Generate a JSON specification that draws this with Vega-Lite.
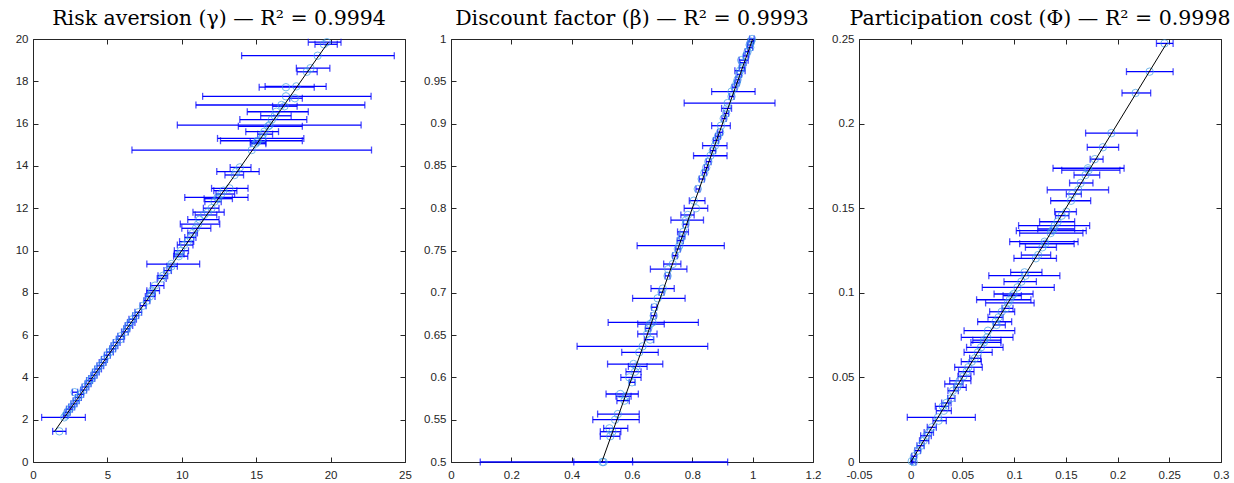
{
  "$schema": "https://vega.github.io/schema/vega-lite/v6.json",
  "background": "white",
  "padding": {"left": 14, "top": 8, "right": 5, "bottom": 5},
  "config": {
    "view": {"stroke": "#262626", "strokeWidth": 1},
    "font": "Liberation Sans",
    "axis": {"domain": false, "grid": false, "tickColor": "#262626", "tickSize": -5, "tickWidth": 1, "labelColor": "#262626", "labelFont": "Liberation Sans", "labelFontSize": 11.5, "labelPadding": 10, "title": null, "labelFlush": false, "labelOverlap": false},
    "axisX": {"labelPadding": 12},
    "title": {"font": "DejaVu Serif", "fontSize": 20.5, "fontWeight": "normal", "color": "#000000", "offset": 4, "anchor": "middle"}
  },
  "datasets": {
    "gamma": [
      {"t": 19.85, "e": 19.75, "lo": 18.5, "hi": 20.7},
      {"t": 19.75, "e": 19.55, "lo": 18.95, "hi": 20.45},
      {"t": 19.21, "e": 19.13, "lo": 14.02, "hi": 24.28},
      {"t": 18.62, "e": 18.65, "lo": 17.7, "hi": 19.95},
      {"t": 18.45, "e": 18.4, "lo": 17.75, "hi": 19.1},
      {"t": 17.76, "e": 17.7, "lo": 15.6, "hi": 19.7},
      {"t": 17.72, "e": 17.0, "lo": 15.2, "hi": 18.9},
      {"t": 17.29, "e": 17.0, "lo": 11.4, "hi": 22.72},
      {"t": 17.2, "e": 17.6, "lo": 17.25, "hi": 18.1},
      {"t": 16.88, "e": 16.7, "lo": 10.95, "hi": 22.3},
      {"t": 16.82, "e": 16.9, "lo": 16.1, "hi": 17.75},
      {"t": 16.56, "e": 16.35, "lo": 14.4, "hi": 18.5},
      {"t": 16.37, "e": 16.25, "lo": 15.3, "hi": 17.35},
      {"t": 16.19, "e": 16.05, "lo": 13.9, "hi": 18.4},
      {"t": 15.93, "e": 15.9, "lo": 9.7, "hi": 22.05},
      {"t": 15.87, "e": 15.8, "lo": 13.8, "hi": 18.1},
      {"t": 15.62, "e": 15.55, "lo": 14.3, "hi": 16.5},
      {"t": 15.5, "e": 15.45, "lo": 15.1, "hi": 16.1},
      {"t": 15.3, "e": 15.4, "lo": 12.4, "hi": 18.2},
      {"t": 15.19, "e": 15.1, "lo": 12.6, "hi": 18.1},
      {"t": 15.12, "e": 15.05, "lo": 14.6, "hi": 15.65},
      {"t": 15.05, "e": 14.95, "lo": 14.65, "hi": 15.65},
      {"t": 14.75, "e": 14.7, "lo": 6.65, "hi": 22.75},
      {"t": 13.93, "e": 13.9, "lo": 13.25, "hi": 14.65},
      {"t": 13.73, "e": 13.65, "lo": 12.35, "hi": 15.2},
      {"t": 13.57, "e": 13.55, "lo": 12.9, "hi": 14.15},
      {"t": 12.94, "e": 13.2, "lo": 12.0, "hi": 14.45},
      {"t": 12.83, "e": 12.8, "lo": 12.15, "hi": 13.7},
      {"t": 12.67, "e": 12.65, "lo": 12.3, "hi": 13.55},
      {"t": 12.51, "e": 12.4, "lo": 10.2, "hi": 14.45},
      {"t": 12.45, "e": 12.45, "lo": 11.5, "hi": 13.4},
      {"t": 12.31, "e": 12.2, "lo": 11.55, "hi": 12.65},
      {"t": 12.0, "e": 12.0, "lo": 11.45, "hi": 12.5},
      {"t": 11.81, "e": 11.75, "lo": 10.75, "hi": 12.85},
      {"t": 11.68, "e": 11.5, "lo": 10.9, "hi": 12.35},
      {"t": 11.46, "e": 11.2, "lo": 10.4, "hi": 12.5},
      {"t": 11.25, "e": 11.1, "lo": 9.9, "hi": 12.55},
      {"t": 11.05, "e": 10.95, "lo": 10.0, "hi": 11.95},
      {"t": 10.83, "e": 10.75, "lo": 10.4, "hi": 11.05},
      {"t": 10.62, "e": 10.6, "lo": 10.2, "hi": 10.95},
      {"t": 10.42, "e": 10.4, "lo": 9.85, "hi": 10.8},
      {"t": 10.26, "e": 10.15, "lo": 9.7, "hi": 10.75},
      {"t": 9.99, "e": 9.95, "lo": 9.5, "hi": 10.45},
      {"t": 9.83, "e": 9.83, "lo": 9.5, "hi": 10.15},
      {"t": 9.73, "e": 9.8, "lo": 9.45, "hi": 10.4},
      {"t": 9.36, "e": 9.3, "lo": 7.65, "hi": 11.2},
      {"t": 9.25, "e": 9.3, "lo": 9.0, "hi": 9.7},
      {"t": 9.05, "e": 9.05, "lo": 8.8, "hi": 9.3},
      {"t": 8.81, "e": 8.75, "lo": 8.4, "hi": 9.05},
      {"t": 8.68, "e": 8.65, "lo": 8.35, "hi": 8.95},
      {"t": 8.34, "e": 8.2, "lo": 7.9, "hi": 8.8},
      {"t": 8.1, "e": 8.0, "lo": 7.65, "hi": 8.5},
      {"t": 7.99, "e": 7.95, "lo": 7.65, "hi": 8.2},
      {"t": 7.83, "e": 7.85, "lo": 7.55, "hi": 8.2},
      {"t": 7.63, "e": 7.66, "lo": 7.45, "hi": 7.85},
      {"t": 7.39, "e": 7.4, "lo": 7.2, "hi": 7.6},
      {"t": 7.08, "e": 7.08, "lo": 6.85, "hi": 7.3},
      {"t": 6.92, "e": 6.9, "lo": 6.7, "hi": 7.1},
      {"t": 6.75, "e": 6.7, "lo": 6.45, "hi": 6.95},
      {"t": 6.6, "e": 6.55, "lo": 6.35, "hi": 6.85},
      {"t": 6.45, "e": 6.4, "lo": 6.2, "hi": 6.7},
      {"t": 6.3, "e": 6.3, "lo": 6.1, "hi": 6.5},
      {"t": 6.15, "e": 6.2, "lo": 5.95, "hi": 6.4},
      {"t": 5.95, "e": 5.9, "lo": 5.7, "hi": 6.15},
      {"t": 5.8, "e": 5.85, "lo": 5.6, "hi": 6.1},
      {"t": 5.65, "e": 5.6, "lo": 5.4, "hi": 5.85},
      {"t": 5.5, "e": 5.45, "lo": 5.25, "hi": 5.7},
      {"t": 5.35, "e": 5.35, "lo": 5.15, "hi": 5.55},
      {"t": 5.2, "e": 5.15, "lo": 4.95, "hi": 5.4},
      {"t": 5.05, "e": 5.0, "lo": 4.8, "hi": 5.2},
      {"t": 4.85, "e": 4.8, "lo": 4.6, "hi": 5.0},
      {"t": 4.7, "e": 4.7, "lo": 4.45, "hi": 4.9},
      {"t": 4.55, "e": 4.5, "lo": 4.3, "hi": 4.75},
      {"t": 4.4, "e": 4.35, "lo": 4.15, "hi": 4.6},
      {"t": 4.25, "e": 4.2, "lo": 4.0, "hi": 4.45},
      {"t": 4.1, "e": 4.1, "lo": 3.9, "hi": 4.3},
      {"t": 3.95, "e": 3.95, "lo": 3.75, "hi": 4.15},
      {"t": 3.85, "e": 3.8, "lo": 3.6, "hi": 4.0},
      {"t": 3.7, "e": 3.7, "lo": 3.5, "hi": 3.9},
      {"t": 3.55, "e": 3.5, "lo": 3.3, "hi": 3.75},
      {"t": 3.4, "e": 3.4, "lo": 3.2, "hi": 3.6},
      {"t": 3.3, "e": 2.8, "lo": 2.65, "hi": 3.0},
      {"t": 3.2, "e": 3.2, "lo": 3.0, "hi": 3.4},
      {"t": 3.05, "e": 3.05, "lo": 2.85, "hi": 3.25},
      {"t": 2.9, "e": 2.9, "lo": 2.7, "hi": 3.1},
      {"t": 2.75, "e": 2.75, "lo": 2.55, "hi": 2.95},
      {"t": 2.6, "e": 2.6, "lo": 2.4, "hi": 2.8},
      {"t": 2.5, "e": 2.45, "lo": 2.25, "hi": 2.65},
      {"t": 2.35, "e": 2.3, "lo": 2.15, "hi": 2.5},
      {"t": 2.2, "e": 2.2, "lo": 2.05, "hi": 2.35},
      {"t": 2.11, "e": 2.1, "lo": 0.58, "hi": 3.52},
      {"t": 1.45, "e": 1.77, "lo": 1.32, "hi": 2.22}
    ],
    "gammaLine": [{"v": 1.45}, {"v": 19.85}],
    "beta": [
      {"t": 1.0, "e": 0.998, "lo": 0.99, "hi": 1.005},
      {"t": 0.997, "e": 0.995, "lo": 0.985, "hi": 1.003},
      {"t": 0.993, "e": 0.99, "lo": 0.982, "hi": 0.998},
      {"t": 0.99, "e": 0.992, "lo": 0.983, "hi": 1.0},
      {"t": 0.985, "e": 0.983, "lo": 0.975, "hi": 0.99},
      {"t": 0.98, "e": 0.978, "lo": 0.97, "hi": 0.986},
      {"t": 0.975, "e": 0.962, "lo": 0.955, "hi": 0.985},
      {"t": 0.972, "e": 0.968, "lo": 0.958, "hi": 0.978},
      {"t": 0.966, "e": 0.965, "lo": 0.956, "hi": 0.973},
      {"t": 0.9625, "e": 0.958, "lo": 0.941, "hi": 0.975},
      {"t": 0.958, "e": 0.955, "lo": 0.948, "hi": 0.963},
      {"t": 0.952, "e": 0.95, "lo": 0.944, "hi": 0.958},
      {"t": 0.948, "e": 0.947, "lo": 0.94, "hi": 0.955},
      {"t": 0.943, "e": 0.94, "lo": 0.932, "hi": 0.948},
      {"t": 0.9378, "e": 0.93, "lo": 0.864, "hi": 1.008},
      {"t": 0.932, "e": 0.93, "lo": 0.923, "hi": 0.938},
      {"t": 0.9243, "e": 0.917, "lo": 0.773, "hi": 1.074},
      {"t": 0.918, "e": 0.915, "lo": 0.897, "hi": 0.93},
      {"t": 0.912, "e": 0.912, "lo": 0.905, "hi": 0.92},
      {"t": 0.906, "e": 0.904, "lo": 0.898, "hi": 0.912},
      {"t": 0.8975, "e": 0.895, "lo": 0.864, "hi": 0.926},
      {"t": 0.8897, "e": 0.892, "lo": 0.884, "hi": 0.9},
      {"t": 0.885, "e": 0.885, "lo": 0.877, "hi": 0.893},
      {"t": 0.88, "e": 0.878, "lo": 0.87, "hi": 0.887},
      {"t": 0.8739, "e": 0.875, "lo": 0.834, "hi": 0.915},
      {"t": 0.868, "e": 0.868, "lo": 0.86, "hi": 0.877},
      {"t": 0.862, "e": 0.86, "lo": 0.804, "hi": 0.915},
      {"t": 0.855, "e": 0.853, "lo": 0.846, "hi": 0.862},
      {"t": 0.848, "e": 0.846, "lo": 0.84, "hi": 0.853},
      {"t": 0.842, "e": 0.84, "lo": 0.834, "hi": 0.847},
      {"t": 0.8345, "e": 0.831, "lo": 0.823, "hi": 0.84},
      {"t": 0.8227, "e": 0.818, "lo": 0.812, "hi": 0.825},
      {"t": 0.8089, "e": 0.805, "lo": 0.79, "hi": 0.842},
      {"t": 0.7999, "e": 0.812, "lo": 0.773, "hi": 0.851},
      {"t": 0.792, "e": 0.785, "lo": 0.762, "hi": 0.806},
      {"t": 0.786, "e": 0.779, "lo": 0.729, "hi": 0.837},
      {"t": 0.781, "e": 0.778, "lo": 0.77, "hi": 0.786},
      {"t": 0.772, "e": 0.77, "lo": 0.751, "hi": 0.787},
      {"t": 0.7668, "e": 0.765, "lo": 0.756, "hi": 0.775},
      {"t": 0.7616, "e": 0.76, "lo": 0.75, "hi": 0.77},
      {"t": 0.7557, "e": 0.757, "lo": 0.617, "hi": 0.906},
      {"t": 0.7518, "e": 0.752, "lo": 0.745, "hi": 0.76},
      {"t": 0.7439, "e": 0.743, "lo": 0.735, "hi": 0.75},
      {"t": 0.734, "e": 0.735, "lo": 0.705, "hi": 0.762},
      {"t": 0.728, "e": 0.72, "lo": 0.661, "hi": 0.782},
      {"t": 0.72, "e": 0.718, "lo": 0.71, "hi": 0.726},
      {"t": 0.705, "e": 0.702, "lo": 0.663, "hi": 0.74},
      {"t": 0.7006, "e": 0.698, "lo": 0.69, "hi": 0.706},
      {"t": 0.6935, "e": 0.685, "lo": 0.602, "hi": 0.776},
      {"t": 0.6829, "e": 0.674, "lo": 0.665, "hi": 0.682},
      {"t": 0.6729, "e": 0.672, "lo": 0.663, "hi": 0.68},
      {"t": 0.665, "e": 0.668, "lo": 0.521, "hi": 0.82},
      {"t": 0.663, "e": 0.66, "lo": 0.619, "hi": 0.707},
      {"t": 0.658, "e": 0.654, "lo": 0.645, "hi": 0.662},
      {"t": 0.6513, "e": 0.65, "lo": 0.619, "hi": 0.683},
      {"t": 0.6446, "e": 0.66, "lo": 0.641, "hi": 0.672},
      {"t": 0.6367, "e": 0.635, "lo": 0.418, "hi": 0.851},
      {"t": 0.6296, "e": 0.624, "lo": 0.566, "hi": 0.687},
      {"t": 0.6158, "e": 0.605, "lo": 0.519, "hi": 0.702},
      {"t": 0.613, "e": 0.615, "lo": 0.588, "hi": 0.65},
      {"t": 0.6067, "e": 0.61, "lo": 0.58, "hi": 0.63},
      {"t": 0.6, "e": 0.591, "lo": 0.563, "hi": 0.63},
      {"t": 0.5942, "e": 0.6, "lo": 0.591, "hi": 0.61},
      {"t": 0.5804, "e": 0.561, "lo": 0.514, "hi": 0.621},
      {"t": 0.5777, "e": 0.58, "lo": 0.547, "hi": 0.597},
      {"t": 0.5725, "e": 0.575, "lo": 0.55, "hi": 0.591},
      {"t": 0.5567, "e": 0.553, "lo": 0.486, "hi": 0.624},
      {"t": 0.55, "e": 0.544, "lo": 0.47, "hi": 0.624},
      {"t": 0.5398, "e": 0.525, "lo": 0.506, "hi": 0.586},
      {"t": 0.5358, "e": 0.535, "lo": 0.495, "hi": 0.563},
      {"t": 0.5304, "e": 0.528, "lo": 0.495, "hi": 0.56},
      {"t": 0.5, "e": 0.506, "lo": 0.097, "hi": 0.917},
      {"t": 0.5, "e": 0.502, "lo": 0.407, "hi": 0.602}
    ],
    "betaLine": [{"v": 0.5}, {"v": 1.0}],
    "phi": [
      {"t": 0.2474, "e": 0.2454, "lo": 0.2376, "hi": 0.2537},
      {"t": 0.2307, "e": 0.231, "lo": 0.2086, "hi": 0.2537},
      {"t": 0.2181, "e": 0.2174, "lo": 0.2043, "hi": 0.232},
      {"t": 0.1944, "e": 0.194, "lo": 0.1691, "hi": 0.219},
      {"t": 0.186, "e": 0.1858, "lo": 0.1707, "hi": 0.201},
      {"t": 0.179, "e": 0.178, "lo": 0.1735, "hi": 0.186},
      {"t": 0.1736, "e": 0.1714, "lo": 0.1376, "hi": 0.2063},
      {"t": 0.1725, "e": 0.172, "lo": 0.146, "hi": 0.2023},
      {"t": 0.1696, "e": 0.169, "lo": 0.1579, "hi": 0.1827},
      {"t": 0.1649, "e": 0.1643, "lo": 0.1536, "hi": 0.1762},
      {"t": 0.1608, "e": 0.162, "lo": 0.132, "hi": 0.1913},
      {"t": 0.1584, "e": 0.156, "lo": 0.1505, "hi": 0.165},
      {"t": 0.1544, "e": 0.155, "lo": 0.1353, "hi": 0.174},
      {"t": 0.1479, "e": 0.1505, "lo": 0.1392, "hi": 0.1602},
      {"t": 0.1456, "e": 0.146, "lo": 0.14, "hi": 0.153},
      {"t": 0.142, "e": 0.142, "lo": 0.1246, "hi": 0.1585},
      {"t": 0.1397, "e": 0.1392, "lo": 0.1043, "hi": 0.173},
      {"t": 0.1377, "e": 0.138, "lo": 0.1228, "hi": 0.1585},
      {"t": 0.1367, "e": 0.137, "lo": 0.1021, "hi": 0.1697},
      {"t": 0.1353, "e": 0.1353, "lo": 0.1053, "hi": 0.1665},
      {"t": 0.1302, "e": 0.1295, "lo": 0.0957, "hi": 0.1618},
      {"t": 0.129, "e": 0.13, "lo": 0.1053, "hi": 0.158},
      {"t": 0.1269, "e": 0.1273, "lo": 0.1109, "hi": 0.1409},
      {"t": 0.1223, "e": 0.1232, "lo": 0.107, "hi": 0.1353},
      {"t": 0.1204, "e": 0.121, "lo": 0.0998, "hi": 0.1409},
      {"t": 0.1121, "e": 0.1101, "lo": 0.0966, "hi": 0.1269},
      {"t": 0.1101, "e": 0.111, "lo": 0.0755, "hi": 0.1442},
      {"t": 0.1066, "e": 0.107, "lo": 0.0902, "hi": 0.1215},
      {"t": 0.1032, "e": 0.1032, "lo": 0.0692, "hi": 0.1388},
      {"t": 0.0993, "e": 0.0995, "lo": 0.0806, "hi": 0.1183},
      {"t": 0.0983, "e": 0.098, "lo": 0.0893, "hi": 0.107},
      {"t": 0.0959, "e": 0.0958, "lo": 0.0637, "hi": 0.1162},
      {"t": 0.094, "e": 0.094, "lo": 0.0724, "hi": 0.1193},
      {"t": 0.0908, "e": 0.092, "lo": 0.0883, "hi": 0.0989},
      {"t": 0.0888, "e": 0.088, "lo": 0.0763, "hi": 0.1005},
      {"t": 0.0855, "e": 0.085, "lo": 0.0747, "hi": 0.0893},
      {"t": 0.0829, "e": 0.082, "lo": 0.0647, "hi": 0.0976},
      {"t": 0.081, "e": 0.083, "lo": 0.08, "hi": 0.0915},
      {"t": 0.0776, "e": 0.0747, "lo": 0.0516, "hi": 0.1006},
      {"t": 0.0737, "e": 0.074, "lo": 0.0489, "hi": 0.0989},
      {"t": 0.072, "e": 0.071, "lo": 0.06, "hi": 0.0872},
      {"t": 0.0707, "e": 0.0708, "lo": 0.0582, "hi": 0.0872},
      {"t": 0.0678, "e": 0.068, "lo": 0.054, "hi": 0.0893},
      {"t": 0.0648, "e": 0.065, "lo": 0.0516, "hi": 0.0788},
      {"t": 0.0613, "e": 0.062, "lo": 0.057, "hi": 0.0677},
      {"t": 0.0593, "e": 0.059, "lo": 0.0489, "hi": 0.0683},
      {"t": 0.056, "e": 0.0557, "lo": 0.0425, "hi": 0.0692},
      {"t": 0.0534, "e": 0.054, "lo": 0.0463, "hi": 0.0612},
      {"t": 0.0507, "e": 0.051, "lo": 0.0457, "hi": 0.0582},
      {"t": 0.048, "e": 0.0473, "lo": 0.0377, "hi": 0.0582},
      {"t": 0.0461, "e": 0.046, "lo": 0.0329, "hi": 0.0506},
      {"t": 0.0441, "e": 0.045, "lo": 0.0418, "hi": 0.0537},
      {"t": 0.0421, "e": 0.0408, "lo": 0.036, "hi": 0.046},
      {"t": 0.0376, "e": 0.039, "lo": 0.0357, "hi": 0.0428},
      {"t": 0.0349, "e": 0.0345, "lo": 0.03, "hi": 0.039},
      {"t": 0.0329, "e": 0.031, "lo": 0.0238, "hi": 0.0367},
      {"t": 0.0303, "e": 0.032, "lo": 0.0248, "hi": 0.0393},
      {"t": 0.0264, "e": 0.0264, "lo": -0.0033, "hi": 0.0625},
      {"t": 0.0244, "e": 0.027, "lo": 0.0215, "hi": 0.0344},
      {"t": 0.0205, "e": 0.0205, "lo": 0.016, "hi": 0.0248},
      {"t": 0.0175, "e": 0.0175, "lo": 0.013, "hi": 0.022},
      {"t": 0.0155, "e": 0.015, "lo": 0.0096, "hi": 0.0199},
      {"t": 0.0126, "e": 0.0125, "lo": 0.0085, "hi": 0.0175},
      {"t": 0.0096, "e": 0.0096, "lo": 0.006, "hi": 0.013},
      {"t": 0.0067, "e": 0.0068, "lo": 0.004, "hi": 0.0095},
      {"t": 0.0034, "e": 0.0032, "lo": 0.001, "hi": 0.0055},
      {"t": 0.0, "e": 0.003, "lo": 0.001, "hi": 0.005},
      {"t": 0.0005, "e": 0.001, "lo": 0.0, "hi": 0.002}
    ],
    "phiLine": [{"v": 0.0}, {"v": 0.2474}]
  },
  "hconcat": [
    {
      "width": 372, "height": 423,
      "title": {"text": "Risk aversion (γ) — R² = 0.9994"},
      "layer": [
        {"data": {"name": "gamma"}, "mark": {"type": "rule", "color": "#0000ff", "strokeWidth": 1.3},
         "encoding": {
           "x": {"field": "lo", "type": "quantitative", "scale": {"domain": [0, 25], "nice": false, "zero": false}, "axis": {"orient": "bottom", "values": [0, 5, 10, 15, 20, 25], "labelExpr": "'' + datum.value"}},
           "x2": {"field": "hi"},
           "y": {"field": "t", "type": "quantitative", "scale": {"domain": [0, 20], "nice": false, "zero": false}, "axis": {"orient": "left", "values": [0, 2, 4, 6, 8, 10, 12, 14, 16, 18, 20], "labelExpr": "'' + datum.value"}}
         }},
        {"data": {"name": "gamma"}, "mark": {"type": "tick", "orient": "vertical", "color": "#0000ff", "size": 7, "thickness": 1.3},
         "encoding": {"x": {"field": "lo", "type": "quantitative", "axis": null}, "y": {"field": "t", "type": "quantitative", "axis": null}}},
        {"data": {"name": "gamma"}, "mark": {"type": "tick", "orient": "vertical", "color": "#0000ff", "size": 7, "thickness": 1.3},
         "encoding": {"x": {"field": "hi", "type": "quantitative", "axis": null}, "y": {"field": "t", "type": "quantitative", "axis": null}}},
        {"data": {"name": "gamma"}, "mark": {"type": "point", "shape": "circle", "filled": false, "color": "#3d9de6", "size": 55, "strokeWidth": 1},
         "encoding": {"x": {"field": "e", "type": "quantitative", "axis": null}, "y": {"field": "t", "type": "quantitative", "axis": null}}},
        {"data": {"name": "gammaLine"}, "mark": {"type": "line", "color": "#000000", "strokeWidth": 1},
         "encoding": {
           "x": {"field": "v", "type": "quantitative", "axis": {"orient": "top", "values": [0, 5, 10, 15, 20, 25], "labels": false}},
           "y": {"field": "v", "type": "quantitative", "axis": {"orient": "right", "values": [0, 2, 4, 6, 8, 10, 12, 14, 16, 18, 20], "labels": false}}
         }}
      ]
    },
    {
      "width": 362, "height": 423,
      "title": {"text": "Discount factor (β) — R² = 0.9993"},
      "layer": [
        {"data": {"name": "beta"}, "mark": {"type": "rule", "color": "#0000ff", "strokeWidth": 1.3},
         "encoding": {
           "x": {"field": "lo", "type": "quantitative", "scale": {"domain": [0, 1.2], "nice": false, "zero": false}, "axis": {"orient": "bottom", "values": [0, 0.2, 0.4, 0.6, 0.8, 1, 1.2], "labelExpr": "'' + datum.value"}},
           "x2": {"field": "hi"},
           "y": {"field": "t", "type": "quantitative", "scale": {"domain": [0.5, 1], "nice": false, "zero": false}, "axis": {"orient": "left", "values": [0.5, 0.55, 0.6, 0.65, 0.7, 0.75, 0.8, 0.85, 0.9, 0.95, 1], "labelExpr": "'' + datum.value"}}
         }},
        {"data": {"name": "beta"}, "mark": {"type": "tick", "orient": "vertical", "color": "#0000ff", "size": 7, "thickness": 1.3},
         "encoding": {"x": {"field": "lo", "type": "quantitative", "axis": null}, "y": {"field": "t", "type": "quantitative", "axis": null}}},
        {"data": {"name": "beta"}, "mark": {"type": "tick", "orient": "vertical", "color": "#0000ff", "size": 7, "thickness": 1.3},
         "encoding": {"x": {"field": "hi", "type": "quantitative", "axis": null}, "y": {"field": "t", "type": "quantitative", "axis": null}}},
        {"data": {"name": "beta"}, "mark": {"type": "point", "shape": "circle", "filled": false, "color": "#3d9de6", "size": 55, "strokeWidth": 1},
         "encoding": {"x": {"field": "e", "type": "quantitative", "axis": null}, "y": {"field": "t", "type": "quantitative", "axis": null}}},
        {"data": {"name": "betaLine"}, "mark": {"type": "line", "color": "#000000", "strokeWidth": 1},
         "encoding": {
           "x": {"field": "v", "type": "quantitative", "axis": {"orient": "top", "values": [0, 0.2, 0.4, 0.6, 0.8, 1, 1.2], "labels": false}},
           "y": {"field": "v", "type": "quantitative", "axis": {"orient": "right", "values": [0.5, 0.55, 0.6, 0.65, 0.7, 0.75, 0.8, 0.85, 0.9, 0.95, 1], "labels": false}}
         }}
      ]
    },
    {
      "width": 362, "height": 423,
      "title": {"text": "Participation cost (Φ) — R² = 0.9998"},
      "layer": [
        {"data": {"name": "phi"}, "mark": {"type": "rule", "color": "#0000ff", "strokeWidth": 1.3},
         "encoding": {
           "x": {"field": "lo", "type": "quantitative", "scale": {"domain": [-0.05, 0.3], "nice": false, "zero": false}, "axis": {"orient": "bottom", "values": [-0.05, 0, 0.05, 0.1, 0.15, 0.2, 0.25, 0.3], "labelExpr": "'' + datum.value"}},
           "x2": {"field": "hi"},
           "y": {"field": "t", "type": "quantitative", "scale": {"domain": [0, 0.25], "nice": false, "zero": false}, "axis": {"orient": "left", "values": [0, 0.05, 0.1, 0.15, 0.2, 0.25], "labelExpr": "'' + datum.value"}}
         }},
        {"data": {"name": "phi"}, "mark": {"type": "tick", "orient": "vertical", "color": "#0000ff", "size": 7, "thickness": 1.3},
         "encoding": {"x": {"field": "lo", "type": "quantitative", "axis": null}, "y": {"field": "t", "type": "quantitative", "axis": null}}},
        {"data": {"name": "phi"}, "mark": {"type": "tick", "orient": "vertical", "color": "#0000ff", "size": 7, "thickness": 1.3},
         "encoding": {"x": {"field": "hi", "type": "quantitative", "axis": null}, "y": {"field": "t", "type": "quantitative", "axis": null}}},
        {"data": {"name": "phi"}, "mark": {"type": "point", "shape": "circle", "filled": false, "color": "#3d9de6", "size": 55, "strokeWidth": 1},
         "encoding": {"x": {"field": "e", "type": "quantitative", "axis": null}, "y": {"field": "t", "type": "quantitative", "axis": null}}},
        {"data": {"name": "phiLine"}, "mark": {"type": "line", "color": "#000000", "strokeWidth": 1},
         "encoding": {
           "x": {"field": "v", "type": "quantitative", "axis": {"orient": "top", "values": [-0.05, 0, 0.05, 0.1, 0.15, 0.2, 0.25, 0.3], "labels": false}},
           "y": {"field": "v", "type": "quantitative", "axis": {"orient": "right", "values": [0, 0.05, 0.1, 0.15, 0.2, 0.25], "labels": false}}
         }}
      ]
    }
  ],
  "spacing": 46,
  "bounds": "flush"
}
